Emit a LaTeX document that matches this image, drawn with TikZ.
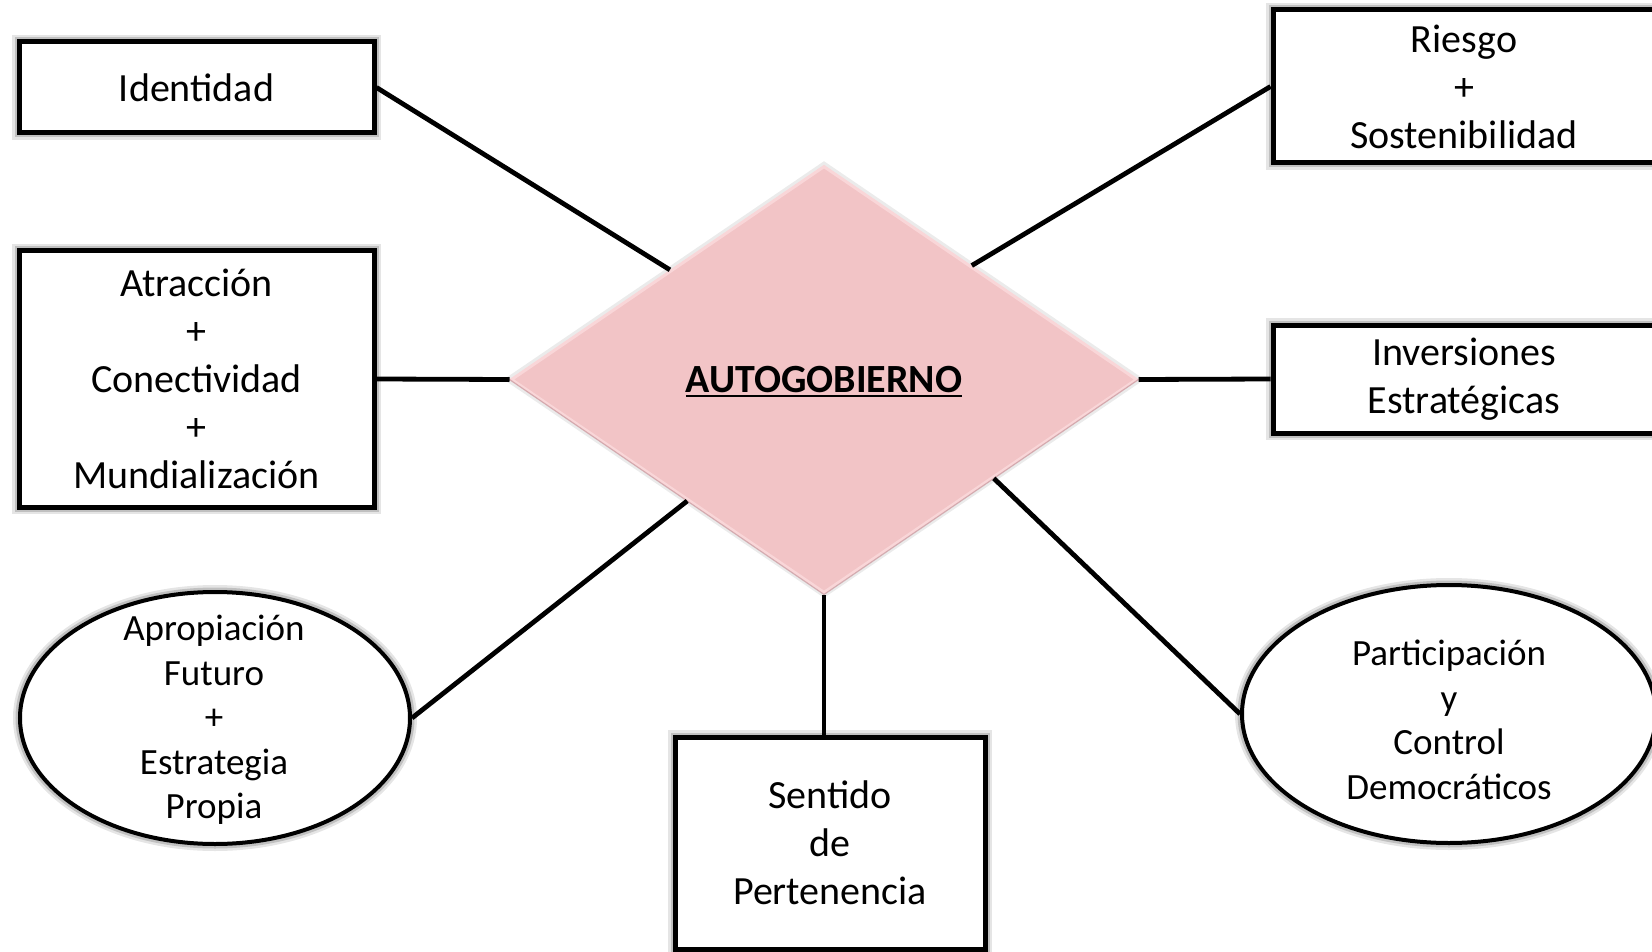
\documentclass[tikz,border=0pt]{standalone}
\usepackage{fontspec}
\setmainfont{Carlito}
\usetikzlibrary{shapes.geometric,calc}
\definecolor{diapink}{RGB}{242,196,198}
\definecolor{diaedge}{RGB}{249,214,216}
\definecolor{diadark}{RGB}{200,150,156}
\newcommand{\myul}[1]{\setbox0\hbox{#1}\rlap{\smash{\rule[-5pt]{\wd0}{2.8pt}}}\box0}
\tikzset{
  halo/.style={preaction={draw=black,opacity=0.10,line width=14pt},
               preaction={draw=black,opacity=0.16,line width=9pt}},
  boxtxt/.style={align=center,inner sep=0pt,font=\fontsize{40}{48}\selectfont},
  ovaltxt/.style={align=center,inner sep=0pt,font=\fontsize{37}{44.6}\selectfont},
  box/.style={rectangle,draw=black,line width=5pt,fill=white,inner sep=0pt,
              align=center,font=\fontsize{40}{48}\selectfont,halo},
  oval/.style={ellipse,draw=black,line width=4pt,fill=white,inner sep=0pt,halo},
  wire/.style={line width=4.8pt,draw=black}
}
\begin{document}
\begin{tikzpicture}[x=1pt,y=-1pt]
\useasboundingbox (0,0) rectangle (1652,952);
\fill[white] (0,0) rectangle (1652,952);

% centre diamond
\node[diamond,minimum width=626pt,minimum height=427pt,inner sep=0pt,
      fill=diapink,draw=diaedge,line width=3pt,
      preaction={draw=black,opacity=0.08,line width=9pt},
      font=\fontsize{40}{48}\selectfont] (dia) at (824,379.5)
      {\bfseries\myul{AUTOGOBIERNO}};
\draw[diadark,line width=1.2pt,opacity=0.7] (dia.west) -- (dia.south) -- (dia.east);

% left column
\node[box,minimum width=355pt,minimum height=91pt] (ident) at (196.5,87.5) {Identidad};
\node[box,minimum width=355pt,minimum height=256pt] (atr) at (196.5,379)
  {Atracción\\+\\Conectividad\\+\\Mundialización};
\node[oval,minimum width=390pt,minimum height=252pt] (apro) at (215,718) {};
\node[ovaltxt] (aprotxt) at (214,720) {Apropiación\\Futuro\\+\\Estrategia\\Propia};

% bottom
\node[box,minimum width=310pt,minimum height=212pt] (sent) at (830,843)
  {Sentido\\de\\Pertenencia};

% right column
\node[box,minimum width=420pt,minimum height=153pt,anchor=west] (riesgo) at (1270.5,86.5) {};
\node[boxtxt] (riesgotxt) at (1464,86.5) {Riesgo\\+\\Sostenibilidad};
\node[box,minimum width=420pt,minimum height=108pt,anchor=west] (inv) at (1270.5,379) {};
\node[boxtxt] (invtxt) at (1464,379) {Inversiones\\Estratégicas};
\node[oval,minimum width=414pt,minimum height=258pt] (part) at (1449,714) {};
\node[ovaltxt] (parttxt) at (1449,720) {Participación\\y\\Control\\Democráticos};

% connectors
\draw[wire] (ident.east) -- ($(dia.west)!0.51!(dia.north)$);
\draw[wire] (riesgo.west) -- ($(dia.north)!0.47!(dia.east)$);
\draw[wire] (atr.east) -- (dia.west);
\draw[wire] (inv.west) -- (dia.east);
\draw[wire] (apro.east) -- ($(dia.west)!0.565!(dia.south)$);
\draw[wire] (sent.north -| dia.south) -- (dia.south);
\draw[wire] (part.west) -- ($(dia.east)!0.46!(dia.south)$);
\end{tikzpicture}
\end{document}
